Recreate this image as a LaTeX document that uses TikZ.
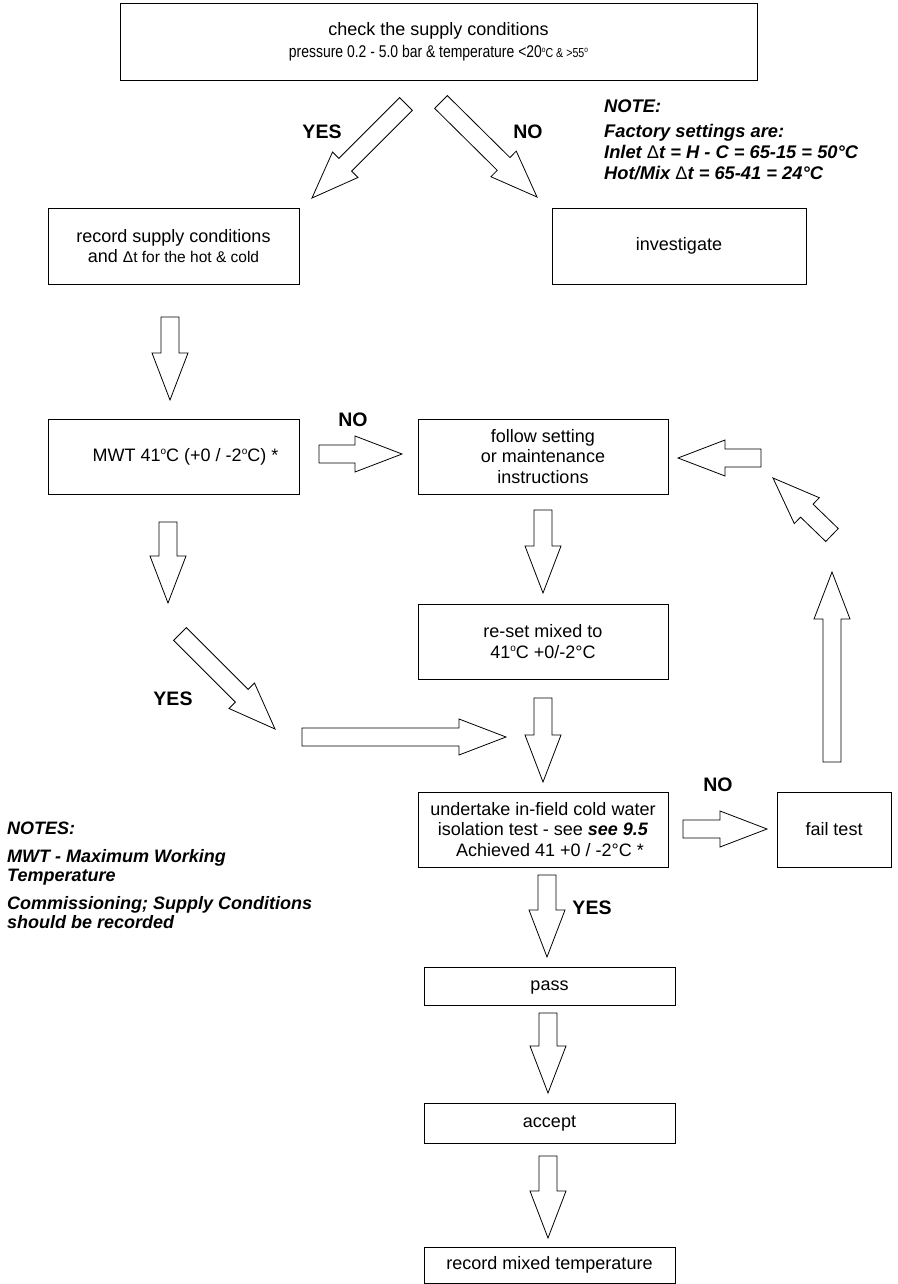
\documentclass[tikz,border=0pt]{standalone}
\usepackage{fontspec}
\setmainfont{Liberation Sans}
\usetikzlibrary{calc,positioning}

\tikzset{
  stepbox/.style={draw,line width=0.9pt,inner sep=0pt,align=center,
                  font=\fontsize{18}{20.5}\selectfont},
  fatarr/.style={draw,line width=0.8pt,fill=white,line join=miter},
  lbl/.style={font=\fontsize{19.5}{21}\selectfont\bfseries},
  notetxt/.style={align=left,inner sep=0pt,anchor=west}
}

\newcommand{\supo}{\raisebox{6.5pt}{\fontsize{10}{10}\selectfont o}}
\newcommand{\smsupo}{\raisebox{5pt}{\fontsize{8}{8}\selectfont o}}

% hollow block arrow from tail (#1) to tip (#2)
\newcommand{\fatarrow}[2]{%
  \coordinate (neck) at ($(#2)!47pt!(#1)$);
  \draw[fatarr] ($(#1)!9pt!90:(#2)$) -- ($(neck)!9pt!-90:(#1)$)
    -- ($(neck)!18pt!-90:(#1)$) -- (#2) -- ($(neck)!18pt!90:(#1)$)
    -- ($(neck)!9pt!90:(#1)$) -- ($(#1)!9pt!-90:(#2)$) -- cycle;}

\begin{document}
\begin{tikzpicture}[x=1pt,y=-1pt]
  \useasboundingbox (0,0) rectangle (897,1284);

  % boxes
  \node[stepbox,minimum width=637,minimum height=77,
        font=\fontsize{18}{22}\selectfont] (chk) at (438.5,41.5)
    {check the supply conditions\\
     \scalebox{0.82}[1]{\fontsize{17}{20}\selectfont pressure 0.2 - 5.0 bar \& temperature {<}20%
       {\fontsize{13}{14}\selectfont \smsupo C \& >55\smsupo}}};
  \node[stepbox,minimum width=251,minimum height=76] (rec) at (173.5,246)
    {record supply conditions\\
     and {\fontsize{15.5}{16}\selectfont Δt for the hot \& cold}};
  \node[stepbox,minimum width=254,minimum height=76] (inv) at (679,246) {investigate};
  \node[stepbox,minimum width=251,minimum height=75] (mwt) at (173.5,456.5)
    {\hspace*{24pt}MWT 41\supo C (+0 / -2\supo C) *};
  \node[stepbox,minimum width=250,minimum height=75] (fol) at (543,456.5)
    {follow setting\\or maintenance\\instructions};
  \node[stepbox,minimum width=250,minimum height=75] (rst) at (543,641.5)
    {re-set mixed to\\41\supo C +0/-2°C};
  \node[stepbox,minimum width=250,minimum height=75] (und) at (543,829.5)
    {undertake in-field cold water\\
     isolation test - see \textbf{\textit{see 9.5}}\\
     \hspace*{14pt}Achieved 41 +0 / -2°C *};
  \node[stepbox,minimum width=114,minimum height=75] (fail) at (834,829.5) {fail test};
  \node[stepbox,minimum width=251,minimum height=38] (pass) at (549.5,986) {pass\strut};
  \node[stepbox,minimum width=251,minimum height=40] (acc) at (549.5,1123) {accept\strut};
  \node[stepbox,minimum width=251,minimum height=36] (rmix) at (549.5,1265)
    {record mixed temperature\strut};

  % labels
  \node[lbl] (yes1) at (322,132) {YES};
  \node[lbl] (no1) at (528,132) {NO};
  \node[lbl] (no2) at (353,420) {NO};
  \node[lbl] (yes2) at (173,699) {YES};
  \node[lbl] (no3) at (718,785) {NO};
  \node[lbl] (yes3) at (592,908) {YES};

  % notes
  \node[notetxt,font=\fontsize{18.3}{21}\selectfont\bfseries\itshape] (facnote) at (604,139.5)
    {NOTE:\\[4pt]Factory settings are:\\
     Inlet {\upshape\mdseries Δ}t = H - C = 65-15 = 50°C\\
     Hot/Mix {\upshape\mdseries Δ}t = 65-41 = 24°C};
  \node[notetxt,font=\fontsize{18}{18.5}\selectfont\bfseries\itshape] (mwtnote) at (7,875)
    {NOTES:\\[10pt]MWT - Maximum Working\\Temperature\\[10pt]
     Commissioning; Supply Conditions\\should be recorded};

  % arrow ends
  \coordinate (a1t) at (406,104);  \coordinate (a1h) at (312,198);
  \coordinate (a2t) at (441,102);  \coordinate (a2h) at (537,197);
  \coordinate (a3t) at (170,317);  \coordinate (a3h) at (170,400);
  \coordinate (a4t) at (319,454);  \coordinate (a4h) at (402,454);
  \coordinate (a5t) at (168,522);  \coordinate (a5h) at (168,603);
  \coordinate (a6t) at (180,634);  \coordinate (a6h) at (275,729);
  \coordinate (a7t) at (302,737);  \coordinate (a7h) at (506,737);
  \coordinate (a8t) at (543,510);  \coordinate (a8h) at (543,593);
  \coordinate (a9t) at (543,698);  \coordinate (a9h) at (543,782);
  \coordinate (a10t) at (683,829); \coordinate (a10h) at (767,829);
  \coordinate (a11t) at (832,762); \coordinate (a11h) at (832,572);
  \coordinate (a12t) at (832,535); \coordinate (a12h) at (773,478);
  \coordinate (a13t) at (761,458); \coordinate (a13h) at (678,458);
  \coordinate (a14t) at (547,875); \coordinate (a14h) at (547,957);
  \coordinate (a15t) at (548,1013); \coordinate (a15h) at (548,1093);
  \coordinate (a16t) at (548,1156); \coordinate (a16h) at (548,1238);

  \foreach \i in {1,...,16}
    {\fatarrow{a\i t}{a\i h}}
\end{tikzpicture}
\end{document}
